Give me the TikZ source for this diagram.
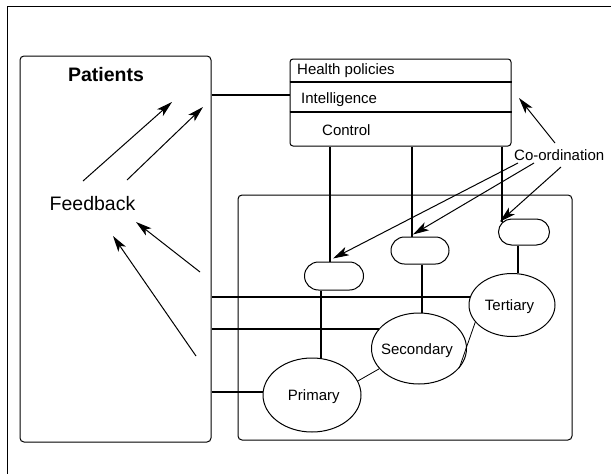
\documentclass[tikz,border=0pt]{standalone}
\usepackage{fontspec}
\setmainfont{Liberation Sans}
\usetikzlibrary{shapes.geometric,shapes.misc,arrows.meta}
\begin{document}
\begin{tikzpicture}[x=1pt,y=-1pt,
  box/.style={draw,line width=1pt,rounded corners=4pt,inner sep=0},
  pill/.style={draw,rounded rectangle,line width=1pt,inner sep=0},
  oval/.style={draw,ellipse,line width=1pt,inner sep=0},
  link/.style={line width=1.9pt},
  thinlink/.style={line width=0.8pt},
  arr/.style={line width=1pt,-{Stealth[length=16pt,width=9pt,inset=4pt]}},
  small/.style={font=\fontsize{15}{18}\selectfont,inner sep=0},
  big/.style={font=\fontsize{19.5}{22}\selectfont,inner sep=0},
]
\useasboundingbox (0,0) rectangle (611,474);
\draw[line width=1pt] (7,474) -- (7,6) -- (611,6);

% main boxes
\node[box,minimum width=191,minimum height=386] (pat) at (115.5,249) {};
\node[box,rounded corners=3pt,minimum width=221,minimum height=87] (hp) at (400.5,102.5) {};
\node[box,minimum width=334,minimum height=245] (low) at (405,317.5) {};

% health policies box dividers and texts
\draw[link] (hp.west |- 0,82) -- (hp.east |- 0,82);
\draw[link] (hp.west |- 0,112) -- (hp.east |- 0,112);
\node[small,anchor=base west] (thp) at (297,74) {Health policies};
\node[small,anchor=base west] (tint) at (301,103) {Intelligence};
\node[small,anchor=base west] (tctl) at (322,135) {Control};

% patients texts
\node[big,font=\fontsize{19.5}{22}\selectfont\bfseries] (tpat) at (106,75) {Patients};
\node[big] (fb) at (92.5,203.5) {Feedback};

% control pills
\node[pill,minimum width=59,minimum height=28] (c1) at (334,276) {};
\node[pill,minimum width=58,minimum height=27] (c2) at (420,250.5) {};
\node[pill,minimum width=51,minimum height=26] (c3) at (524,232) {};

% care levels
\node[oval,minimum width=98,minimum height=74] (prim) at (312,395) {};
\node[oval,minimum width=95,minimum height=71] (sec) at (419,348.5) {};
\node[oval,minimum width=86,minimum height=63] (ter) at (512,305) {};
\node[small,anchor=base] (tprim) at (313.8,400.7) {Primary};
\node[small,anchor=base] (tsec) at (417,354) {Secondary};
\node[small,anchor=base] (tter) at (509.5,310.7) {Tertiary};

% connectors
\draw[link] (pat.east |- 0,95) -- (hp.west |- 0,95);
\draw[link] ([xshift=-4pt]c1.north) -- ([xshift=-4pt]c1.north |- hp.south);
\draw[link] ([xshift=-8pt]c2.north) -- ([xshift=-8pt]c2.north |- hp.south);
\draw[link] (c3.156) -- (c3.156 |- hp.south);
\draw[link] ([xshift=-13pt]c1.south) -- ([xshift=-13pt]c1.south |- prim.north);
\draw[link] ([xshift=2pt]c2.south) -- ([xshift=2pt]c2.south |- sec.north);
\draw[link] ([xshift=-6pt]c3.south) -- ([xshift=-6pt]c3.south |- ter.north);
\draw[link] (pat.east |- ter.169) -- (ter.169);
\draw[link] (pat.east |- sec.154) -- (sec.154);
\draw[link] (pat.east |- prim.176) -- (prim.176);
\draw[thinlink] (prim.17) -- (sec.207);
\draw[thinlink] (sec.334) -- (ter.205);

% co-ordination
\node[small,anchor=base west] (co) at (514,160) {Co-ordination};
\coordinate (co0) at (555,143);
\coordinate (co1) at (518,163);
\coordinate (co2) at (534,163);
\coordinate (co3) at (561,167);
\coordinate (hpa) at (519,98);
\draw[arr] (co0) -- (hpa);
\draw[arr] (co1) -- ([xshift=-1pt,yshift=3pt]c1.north);
\draw[arr] (co2) -- ([xshift=-7pt,yshift=2pt]c2.north);
\draw[arr] (co3) -- ([xshift=-1pt,yshift=2pt]c3.160);

% feedback arrows
\coordinate (fa1) at (83,181);
\coordinate (fa2) at (172,102);
\coordinate (fb1) at (127,180);
\coordinate (fb2) at (203,107);
\coordinate (fc1) at (200,272);
\coordinate (fc2) at (136,222);
\coordinate (fd1) at (196,356);
\coordinate (fd2) at (113,236);
\draw[arr] (fa1) -- (fa2);
\draw[arr] (fb1) -- (fb2);
\draw[arr] (fc1) -- (fc2);
\draw[arr] (fd1) -- (fd2);
\end{tikzpicture}
\end{document}
